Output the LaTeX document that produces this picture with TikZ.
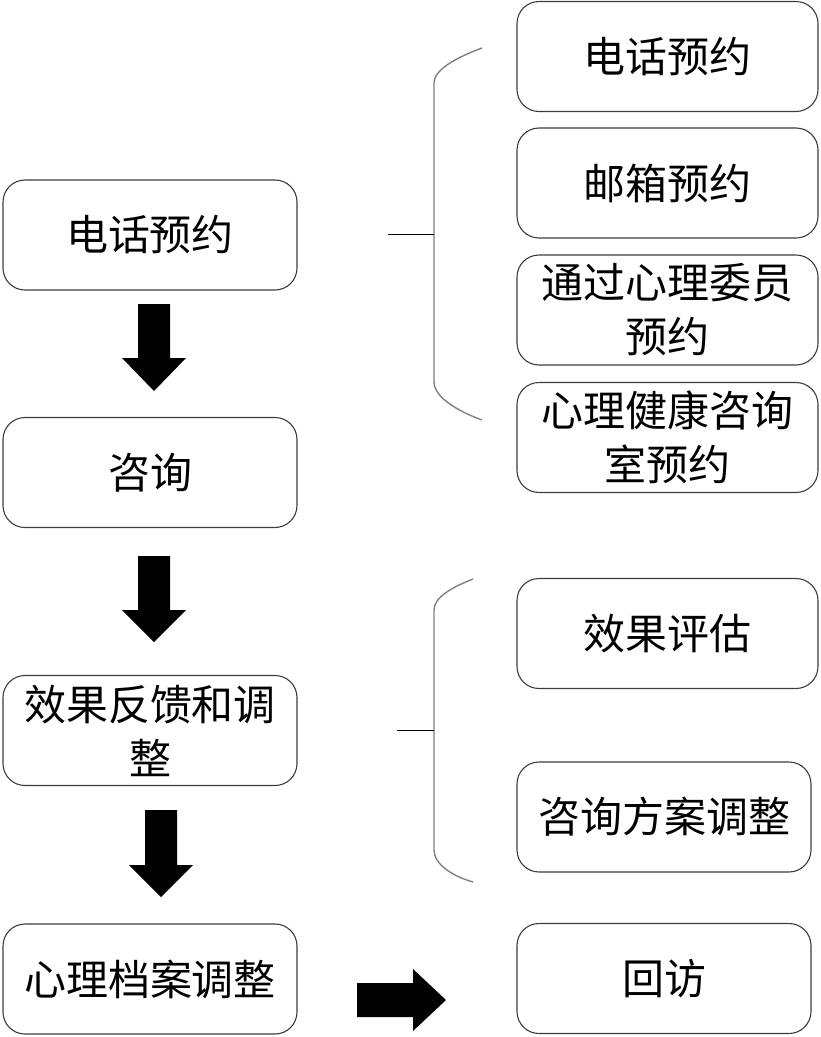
\documentclass[tikz,border=0pt]{standalone}
\usepackage{fontspec}
\setmainfont{Noto Sans CJK SC}
\definecolor{boxline}{HTML}{3C3C3C}
\definecolor{braceline}{HTML}{808080}
\begin{document}
\begin{tikzpicture}[x=1pt,y=-1pt,
  box/.style={draw=boxline,line width=1.1pt,rounded corners=22pt,
    minimum width=294pt,minimum height=110pt,inner sep=0pt,align=center,
    font=\fontsize{42}{54}\selectfont},
  widebox/.style={box,minimum width=301pt},
  bracestyle/.style={draw=braceline,line width=1.4pt},
  tick/.style={draw=black,line width=0.9pt},
  blockarrow/.style={fill=black,draw=none}]
\useasboundingbox (0,0) rectangle (820,1037);
% left column
\node[box] (l1) at (150,235) {电话预约};
\node[box] (l2) at (150,472.5) {咨询};
\node[box] (l3) at (150,730.5) {效果反馈和调\\整};
\node[box] (l4) at (150,979) {心理档案调整};
% right column
\node[widebox] (r1) at (667.5,56.5) {电话预约};
\node[widebox] (r2) at (667.5,183) {邮箱预约};
\node[widebox] (r3) at (667.5,310) {通过心理委员\\预约};
\node[widebox] (r4) at (667.5,437.5) {心理健康咨询\\室预约};
\node[widebox] (r5) at (667.5,633.5) {效果评估};
\node[box] (r6) at (664,817) {咨询方案调整};
\node[box] (r7) at (664,978.5) {回访};
% braces
\coordinate (b1mid) at (434,234);
\coordinate (b1tick) at (388,234);
\draw[bracestyle] (482,48) .. controls (455,58) and (434,70) .. (434,83)
  -- (434,382) .. controls (434,398) and (460,412) .. (482,420);
\draw[tick] (b1tick) -- (b1mid);
\coordinate (b2mid) at (434,730);
\coordinate (b2tick) at (397,730);
\draw[bracestyle] (473,579) .. controls (450,588) and (434,598) .. (434,610)
  -- (434,850) .. controls (434,864) and (452,876) .. (473,882);
\draw[tick] (b2tick) -- (b2mid);
% block arrows
\fill[blockarrow] (138,304) -- (170,304) -- (170,358) -- (186,358) -- (154,391) -- (122,358) -- (138,358) -- cycle;
\fill[blockarrow] (138,556) -- (170,556) -- (170,610) -- (186,610) -- (154,642) -- (122,610) -- (138,610) -- cycle;
\fill[blockarrow] (145,810) -- (177,810) -- (177,865) -- (193,865) -- (161,897) -- (129,865) -- (145,865) -- cycle;
\fill[blockarrow] (357,983) -- (413,983) -- (413,969) -- (446,1000) -- (413,1031) -- (413,1017) -- (357,1017) -- cycle;
\end{tikzpicture}
\end{document}
